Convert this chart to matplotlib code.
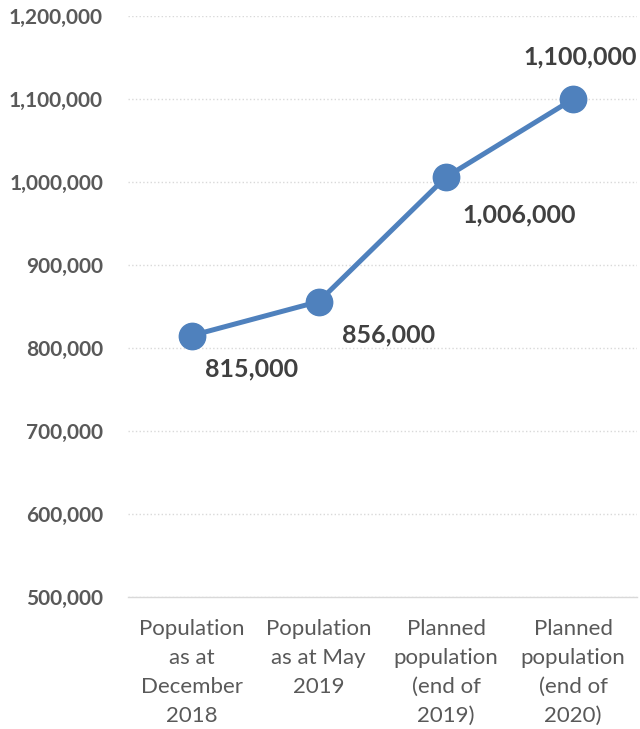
import matplotlib.pyplot as plt
import matplotlib.ticker as mticker

plt.rcParams['font.family'] = ['Lato', 'DejaVu Sans']

# Population figures
categories = ["Population\nas at\nDecember\n2018", "Population\nas at May\n2019",
              "Planned\npopulation\n(end of\n2019)", "Planned\npopulation\n(end of\n2020)"]
population = [815000, 856000, 1006000, 1100000]
yticks = [500000, 600000, 700000, 800000, 900000, 1000000, 1100000, 1200000]

# label offsets (points) relative to each marker
label_offsets = [(43, -24), (50, -24), (53, -27), (5, 30)]

fig = plt.figure(figsize=(6.4, 7.29), dpi=100)
ax = fig.add_axes([0.2, 0.181, 0.795, 0.797])

x = list(range(len(categories)))
ax.plot(x, population, color='#4F81BD', linewidth=3.6, marker='o', markersize=19,
        zorder=3, clip_on=False)

for xi, val, (dx, dy) in zip(x, population, label_offsets):
    ax.annotate(f"{val:,}", (xi, val), xytext=(dx, dy), textcoords='offset points',
                ha='center', va='center', fontsize=18, fontweight='bold', color='#404040')

ax.set_xlim(-0.5, 3.5)
ax.set_ylim(500000, 1200000)
ax.set_yticks(yticks)
ax.yaxis.set_major_formatter(mticker.FuncFormatter(lambda v, p: f"{int(v):,}"))
ax.set_xticks(x)
ax.set_xticklabels(categories, fontsize=16, color='#595959', linespacing=1.56)

for lbl in ax.get_yticklabels():
    lbl.set_fontweight('bold')
    lbl.set_fontsize(15)
    lbl.set_color('#595959')

ax.grid(axis='y', color='#D9D9D9', linestyle=':', linewidth=1)
ax.set_axisbelow(True)
ax.tick_params(length=0)
ax.tick_params(axis='y', pad=18)
ax.tick_params(axis='x', pad=16)
for side in ['top', 'right', 'left']:
    ax.spines[side].set_visible(False)
ax.spines['bottom'].set_color('#D9D9D9')
ax.spines['bottom'].set_linewidth(1)

fig.savefig('out.png', dpi=100)
